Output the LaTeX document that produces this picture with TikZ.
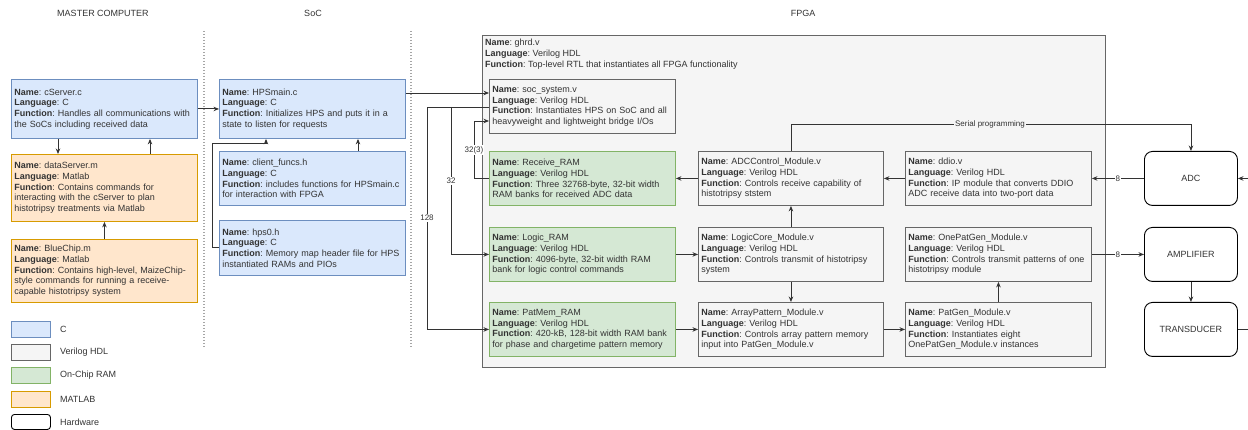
\documentclass[tikz,border=0pt]{standalone}
\usepackage{fontspec}
\setmainfont{Liberation Sans}
\usetikzlibrary{arrows.meta,calc}
\frenchspacing
\definecolor{cfill}{HTML}{DAE8FC}\definecolor{cline}{HTML}{6C8EBF}
\definecolor{gfill}{HTML}{D5E8D4}\definecolor{gline}{HTML}{82B366}
\definecolor{ofill}{HTML}{FFE6CC}\definecolor{oline}{HTML}{D79B00}
\definecolor{vfill}{HTML}{F5F5F5}\definecolor{vline}{HTML}{666666}
\definecolor{txt}{HTML}{333333}
\definecolor{wire}{HTML}{333333}
\newcommand\mybox[7]{%
  \pgfmathsetlengthmacro\mytw{#4-#2-6}%
  \node[#6, anchor=north west, minimum width={#4-#2}, minimum height={#5-#3}, text width=\mytw] (#1) at (#2,#3) {#7};}
\newcommand\nf[3]{\frenchspacing\textbf{Name}: #1\\\textbf{Language}: #2\\\textbf{Function}: #3}
\begin{document}
\begin{tikzpicture}[x=1pt,y=-1pt,
  every node/.style={font=\fontsize{9}{10.7}\selectfont, text=txt},
  basebox/.style={draw, line width=0.9pt, inner xsep=3pt, inner ysep=0pt, align=left},
  cbox/.style={basebox, fill=cfill, draw=cline},
  gbox/.style={basebox, fill=gfill, draw=gline},
  obox/.style={basebox, fill=ofill, draw=oline},
  vbox/.style={basebox, fill=vfill, draw=vline},
  hwbox/.style={draw=black, fill=white, line width=0.9pt, rounded corners=8pt, anchor=north west, align=center},
  arr/.style={draw=wire, line width=0.9pt, -{Stealth[length=5.5pt,width=4.5pt]}},
  wl/.style={draw=wire, line width=0.9pt},
  lbl/.style={fill=white, inner sep=1pt, font=\fontsize{8}{9}\selectfont},
  sep/.style={draw=gray!70, line width=1.2pt, dash pattern=on 1.2pt off 1.8pt},
  head/.style={font=\fontsize{9}{11}\selectfont}]
\useasboundingbox (0,0) rectangle (1248,430);
% headings
\node[head] (h1) at (103,13) {MASTER COMPUTER};
\node[head] (h2) at (313,13) {SoC};
\node[head] (h3) at (803,13) {FPGA};
% separators
\coordinate (s1a) at (204,31); \coordinate (s1b) at (204,348);
\coordinate (s2a) at (411,31); \coordinate (s2b) at (411,347);
\draw[sep] (s1a) -- (s1b);
\draw[sep] (s2a) -- (s2b);
% FPGA container
\node[draw=vline, fill=vfill, line width=0.9pt, anchor=north west, minimum width=623, minimum height=332, inner sep=0pt] (ghrd) at (482,35) {};
\node[anchor=north west, inner sep=0pt, align=left] (ghrdt) at (485,39) {\nf{ghrd.v}{Verilog HDL}{Top-level RTL that instantiates all FPGA functionality}};
% master computer
\mybox{cserver}{11}{79}{197}{138}{cbox}{\nf{cServer.c}{C}{Handles all communications with\\the SoCs including received data}}
\mybox{dataserver}{11}{154}{197}{221}{obox}{\nf{dataServer.m}{Matlab}{Contains commands for\\interacting with the cServer to plan\\histotripsy treatments via Matlab}}
\mybox{bluechip}{11}{239}{197}{302}{obox}{\nf{BlueChip.m}{Matlab}{Contains high-level, MaizeChip-\\style commands for running a receive-\\capable histotripsy system}}
% SoC
\mybox{hpsmain}{219}{79}{405}{138}{cbox}{\nf{HPSmain.c}{C}{Initializes HPS and puts it in a\\state to listen for requests}}
\mybox{clientf}{219}{151}{405}{205}{cbox}{\nf{client\_funcs.h}{C}{includes functions for HPSmain.c\\for interaction with FPGA}}
\mybox{hps0}{219}{220}{405}{275}{cbox}{\nf{hps0.h}{C}{Memory map header file for HPS\\instantiated RAMs and PIOs}}
% FPGA
\mybox{socsys}{489}{79}{675}{133}{vbox}{\nf{soc\_system.v}{Verilog HDL}{Instantiates HPS on SoC and all\\heavyweight and lightweight bridge I/Os}}
\mybox{recram}{489}{151}{675}{205}{gbox}{\nf{Receive\_RAM}{Verilog HDL}{Three 32768-byte, 32-bit width\\RAM banks for received ADC data}}
\mybox{logram}{489}{227}{675}{281}{gbox}{\nf{Logic\_RAM}{Verilog HDL}{4096-byte, 32-bit width RAM\\bank for logic control commands}}
\mybox{patmem}{489}{302}{675}{356}{gbox}{\nf{PatMem\_RAM}{Verilog HDL}{420-kB, 128-bit width RAM bank\\for phase and chargetime pattern memory}}
\mybox{adcctrl}{698}{151}{883}{205}{vbox}{\nf{ADCControl\_Module.v}{Verilog HDL}{Controls receive capability of\\histotripsy ststem}}
\mybox{logcore}{698}{227}{883}{281}{vbox}{\nf{LogicCore\_Module.v}{Verilog HDL}{Controls transmit of histotripsy\\system}}
\mybox{arrpat}{698}{302}{883}{356}{vbox}{\nf{ArrayPattern\_Module.v}{Verilog HDL}{Controls array pattern memory\\input into PatGen\_Module.v}}
\mybox{ddio}{905}{151}{1091}{205}{vbox}{\nf{ddio.v}{Verilog HDL}{IP module that converts DDIO\\ADC receive data into two-port data}}
\mybox{onepat}{905}{227}{1091}{281}{vbox}{\nf{OnePatGen\_Module.v}{Verilog HDL}{Controls transmit patterns of one\\histotripsy module}}
\mybox{patgen}{905}{302}{1091}{356}{vbox}{\nf{PatGen\_Module.v}{Verilog HDL}{Instantiates eight\\OnePatGen\_Module.v instances}}
% hardware
\node[hwbox, minimum width=93, minimum height=54] (adc) at (1144,151) {ADC};
\node[hwbox, minimum width=93, minimum height=54] (amp) at (1144,227) {AMPLIFIER};
\node[hwbox, minimum width=93, minimum height=54] (trans) at (1144,302) {TRANSDUCER};
% helper coordinates
\coordinate (x58) at (58,0); \coordinate (x150) at (150,0);
\coordinate (x358) at (358,0); \coordinate (x266) at (266,0);
\coordinate (h1c) at (212,143);
\coordinate (y93) at (0,93); \coordinate (y107) at (0,107); \coordinate (y121) at (0,121);
\coordinate (x427) at (427,0); \coordinate (x451) at (451,0); \coordinate (x474) at (474,0);
\coordinate (y124) at (0,124);
\coordinate (offr) at (1256,0);
% master connectors
\draw[arr] (cserver.south -| x58) -- (dataserver.north -| x58);
\draw[arr] (dataserver.north -| x150) -- (cserver.south -| x150);
\draw[arr] (bluechip.north) -- (dataserver.south);
\draw[arr] (cserver.east) -- (hpsmain.west);
% soc connectors
\draw[arr] (clientf.north -| x358) -- (hpsmain.south -| x358);
\draw[arr] (hps0.west) -| (h1c) -| (hpsmain.south -| x266);
\draw[arr] (hpsmain.east |- y93) -- (socsys.west |- y93);
% soc_system to RAMs
\draw[arr] (socsys.west |- y107) -| (x427 |- patmem.west) -- (patmem.west);
\draw[arr] (x451 |- y107) |- (logram.west);
\draw[arr] (recram.west) -| (x474 |- y121) -- (socsys.west |- y121);
\node[lbl] (l128) at (427,218) {128};
\node[lbl] (l32) at (451,181) {32};
\node[lbl] (l323) at (474,150) {32(3)};
% FPGA internal
\draw[arr] (adcctrl.west) -- (recram.east);
\draw[arr] (ddio.west) -- (adcctrl.east);
\draw[arr] (logcore.north) -- (adcctrl.south);
\draw[arr] (logram.east) -- (logcore.west);
\draw[arr] (logcore.south) -- (arrpat.north);
\draw[arr] (patmem.east) -- (arrpat.west);
\draw[arr] (arrpat.east) -- (patgen.west);
\draw[arr] (patgen.north) -- (onepat.south);
% hardware
\draw[arr] (adc.west) -- node[lbl, pos=0.5] (l8a) {8} (ddio.east);
\draw[arr] (onepat.east) -- node[lbl, pos=0.5] (l8b) {8} (amp.west);
\draw[arr] (amp.south) -- (trans.north);
\draw[arr] (trans.east) -| (offr |- adc.east) -- (adc.east);
\draw[arr] (adcctrl.north) |- (adc.north |- y124) -- (adc.north);
\node[fill=vfill, inner sep=1pt, font=\fontsize{8}{9}\selectfont] (serial) at (990,124) {Serial programming};
% legend
\node[cbox, anchor=north west, minimum width=39, minimum height=16] (lg1) at (11,321) {};
\node[vbox, anchor=north west, minimum width=39, minimum height=16] (lg2) at (11,344) {};
\node[gbox, anchor=north west, minimum width=39, minimum height=16] (lg3) at (11,367) {};
\node[obox, anchor=north west, minimum width=39, minimum height=16] (lg4) at (11,391) {};
\node[draw=black, fill=white, line width=0.9pt, rounded corners=3pt, anchor=north west, minimum width=39, minimum height=15, inner sep=0pt] (lg5) at (11,414) {};
\node[anchor=west, inner sep=0pt] (lt1) at ($(lg1.east)+(9,0)$) {C};
\node[anchor=west, inner sep=0pt] (lt2) at ($(lg2.east)+(9,0)$) {Verilog HDL};
\node[anchor=west, inner sep=0pt] (lt3) at ($(lg3.east)+(9,0)$) {On-Chip RAM};
\node[anchor=west, inner sep=0pt] (lt4) at ($(lg4.east)+(9,0)$) {MATLAB};
\node[anchor=west, inner sep=0pt] (lt5) at ($(lg5.east)+(9,0)$) {Hardware};
\end{tikzpicture}
\end{document}
